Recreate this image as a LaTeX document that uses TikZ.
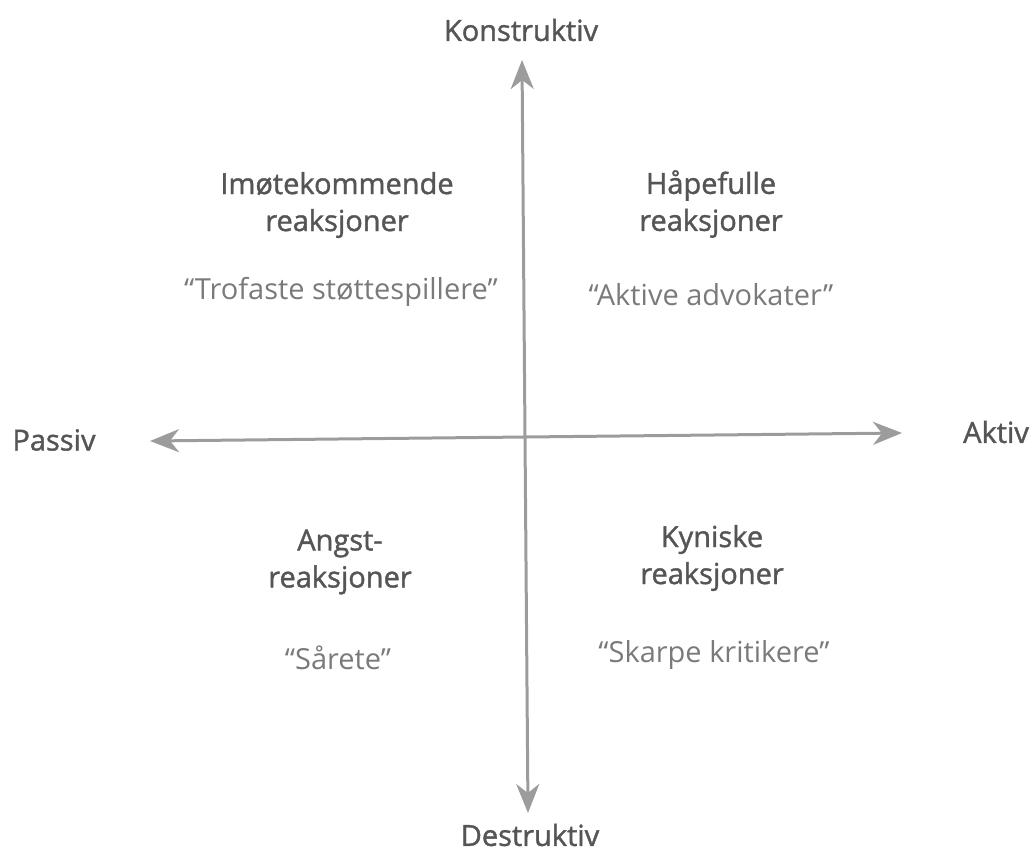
\documentclass[tikz,border=0pt]{standalone}
\usepackage{fontspec}
\setmainfont{Open Sans}
\newfontfamily\headfont[FakeBold=1.3]{Open Sans}
\usetikzlibrary{arrows.meta}
\definecolor{axisgray}{HTML}{9C9C9C}
\definecolor{headgray}{HTML}{555555}
\definecolor{quotegray}{HTML}{7A7A7A}
\begin{document}
\begin{tikzpicture}[x=1pt,y=-1pt,
  axis/.style={draw=axisgray, line width=3pt, -{Stealth[length=29pt,width=23pt,inset=9pt]}},
  axislabel/.style={text=headgray, font=\headfont\fontsize{29}{34}\selectfont, inner sep=0pt},
  heading/.style={text=headgray, font=\headfont\fontsize{29}{37}\selectfont, align=center, inner sep=0pt},
  quote/.style={text=quotegray, font=\fontsize{29}{34}\selectfont, inner sep=0pt}]
\useasboundingbox (0,0) rectangle (1035,852);
\coordinate (c) at (525,437);
\coordinate (top) at (522,60);
\coordinate (bot) at (528,813);
\coordinate (left) at (150,441);
\coordinate (right) at (902,433);
\draw[axis] (c) -- (top);
\draw[axis] (c) -- (bot);
\draw[axis] (c) -- (left);
\draw[axis] (c) -- (right);
\node[axislabel] (kon) at (521,30) {Konstruktiv};
\node[axislabel] (des) at (530,835) {Destruktiv};
\node[axislabel] (pas) at (54,440) {Passiv};
\node[axislabel] (akt) at (996,432) {Aktiv};
\node[heading] (h1) at (337,205) {Imøtekommende\\reaksjoner};
\node[heading] (h2) at (711,204) {Håpefulle\\reaksjoner};
\node[heading] (h3) at (340,562) {Angst-\\reaksjoner};
\node[heading] (h4) at (712,558) {Kyniske\\reaksjoner};
\node[quote] (q1) at (341,292) {“Trofaste støttespillere”};
\node[quote] (q2) at (711,295) {“Aktive advokater”};
\node[quote] (q3) at (338,658) {“Sårete”};
\node[quote] (q4) at (714,655) {“Skarpe kritikere”};
\end{tikzpicture}
\end{document}
